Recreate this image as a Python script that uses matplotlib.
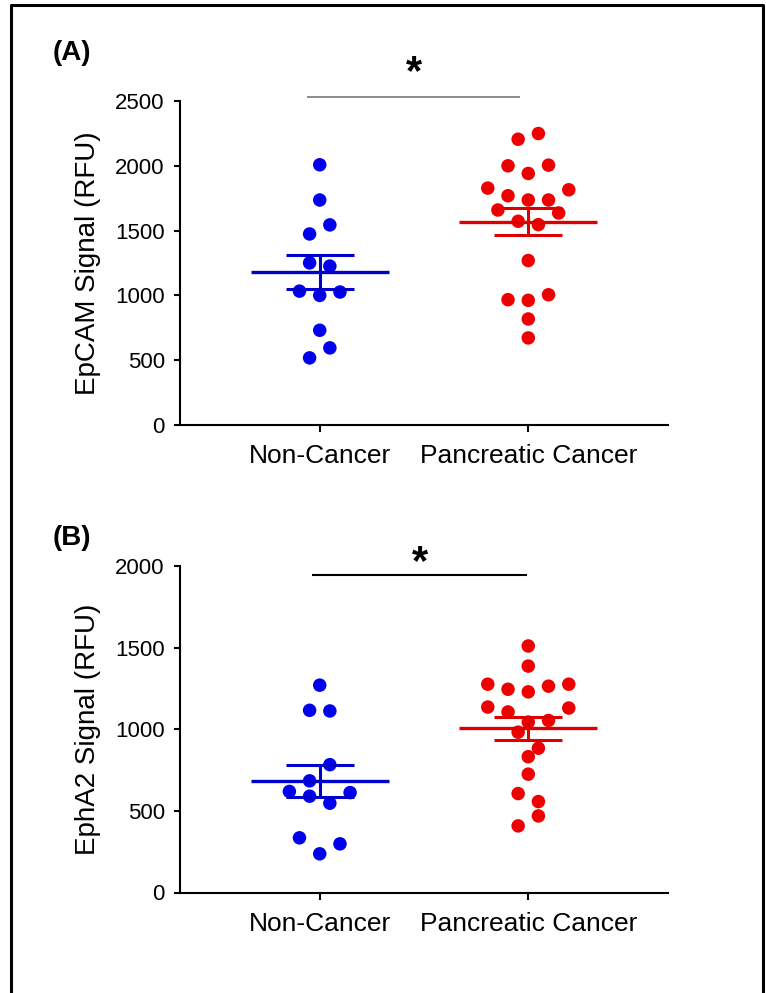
import numpy as np
import matplotlib
matplotlib.use('Agg')
import matplotlib.pyplot as plt
from matplotlib.lines import Line2D

plt.rcParams['font.family'] = ['Liberation Sans', 'DejaVu Sans']

# ---------------- data ----------------
categories = ['Non-Cancer', 'Pancreatic Cancer']

epcam_non_cancer = [2008, 1736, 1474, 1544, 1251, 1226, 1033, 1000, 1026, 731, 518, 595]
epcam_cancer = [2205, 2249, 2000, 1941, 2005, 1828, 1769, 1736, 1736, 1815,
                1659, 1572, 1546, 1636, 1269, 967, 962, 1005, 818, 672]

epha2_non_cancer = [1270, 1116, 1112, 684, 783, 619, 590, 547, 612, 335, 237, 298]
epha2_cancer = [1510, 1387, 1276, 1245, 1229, 1264, 1276, 1136, 1106, 1044,
                1054, 1130, 982, 884, 832, 725, 606, 557, 408, 469]

epcam_ticks = [0, 500, 1000, 1500, 2000, 2500]
epha2_ticks = [0, 500, 1000, 1500, 2000]

panel_labels = ['(A)', '(B)']
y_labels = ['EpCAM Signal (RFU)', 'EphA2 Signal (RFU)']
significance = ['*', '*']

# ---------------- style ----------------
W, H = 766, 993
DPI = 100
dot_colors = ['#0000ee', '#ee0000']
line_colors = ['#0000cc', '#dd0000']
MARKER_PX = 13.5

fig = plt.figure(figsize=(W / DPI, H / DPI), dpi=DPI)


def px_box(left, top, right, bottom):
    return [left / W, 1 - bottom / H, (right - left) / W, (bottom - top) / H]


def swarm_offsets(values, px_per_y, px_per_x, marker_px, row_px=17, step_factor=1.5):
    vals = np.asarray(values, float)
    order = sorted(range(len(vals)), key=lambda i: (-vals[i], i))
    offsets = np.zeros(len(vals))
    rows, cur = [], []
    for i in order:
        if cur and (vals[cur[0]] - vals[i]) * px_per_y > row_px:
            rows.append(cur)
            cur = []
        cur.append(i)
    if cur:
        rows.append(cur)
    step = marker_px * step_factor / px_per_x
    for r in rows:
        r = sorted(r)
        n = len(r)
        for k, i in enumerate(r):
            offsets[i] = (k - (n - 1) / 2) * step
    return offsets


def draw_panel(box, groups, ticks, ylabel, sig, sig_color, sig_lw, sig_line_y, sig_x, star_y):
    ax = fig.add_axes(px_box(*box))
    xlim = (-0.67, 1.67)
    ylim = (ticks[0], ticks[-1])
    ax.set_xlim(*xlim)
    ax.set_ylim(*ylim)
    w_px = (box[2] - box[0])
    h_px = (box[3] - box[1])
    px_per_x = w_px / (xlim[1] - xlim[0])
    px_per_y = h_px / (ylim[1] - ylim[0])

    for gi, vals in enumerate(groups):
        vals = np.asarray(vals, float)
        offs = swarm_offsets(vals, px_per_y, px_per_x, MARKER_PX)
        ax.scatter(gi + offs, vals, s=(MARKER_PX * 72 / DPI) ** 2, color=dot_colors[gi],
                   edgecolors='none', zorder=3, clip_on=False)
        m = vals.mean()
        sem = vals.std(ddof=1) / np.sqrt(len(vals))
        ax.hlines(m, gi - 0.33, gi + 0.33, color=line_colors[gi], lw=2.4, zorder=4)
        ax.hlines([m - sem, m + sem], gi - 0.163, gi + 0.163, color=line_colors[gi], lw=2.2, zorder=4)
        ax.vlines(gi, m - sem, m + sem, color=line_colors[gi], lw=2.2, zorder=4)

    for s in ['top', 'right']:
        ax.spines[s].set_visible(False)
    for s in ['left', 'bottom']:
        ax.spines[s].set_linewidth(1.5)
    ax.set_yticks(ticks)
    ax.set_yticklabels([str(t) for t in ticks])
    ax.set_xticks(range(len(categories)))
    ax.set_xticklabels(categories)
    ax.tick_params(axis='y', length=4, width=1.5, pad=7, labelsize=16)
    ax.tick_params(axis='x', length=5, width=1.5, pad=9, labelsize=19)
    ax.set_ylabel(ylabel, fontsize=20)
    ax.yaxis.label.set(ha='center', va='center')
    ax.yaxis.set_label_coords((88 - box[0]) / w_px, 0.5)

    ax.plot(sig_x, [sig_line_y, sig_line_y], color=sig_color, lw=sig_lw, clip_on=False,
            solid_capstyle='butt')
    ax.text(np.mean(sig_x), star_y, sig, ha='center', va='center', fontsize=30,
            fontweight='bold', clip_on=False)
    return ax


axA = draw_panel((180, 101, 668, 425), [epcam_non_cancer, epcam_cancer], epcam_ticks,
                 y_labels[0], significance[0], '#7a7a7a', 1.2, 2531, [-0.06, 0.96], 2715)
axB = draw_panel((180, 566, 668, 892.5), [epha2_non_cancer, epha2_cancer], epha2_ticks,
                 y_labels[1], significance[1], 'black', 1.5, 1945, [-0.035, 0.995], 2020)

fig.text(53 / W, 1 - 53 / H, panel_labels[0], ha='left', va='center', fontsize=20, fontweight='bold')
fig.text(53 / W, 1 - 538 / H, panel_labels[1], ha='left', va='center', fontsize=20, fontweight='bold')

# figure frame (left, top, right)
fig.add_artist(Line2D([10.5 / W, 10.5 / W, 763 / W, 763 / W], [0, 1 - 5 / H, 1 - 5 / H, 0],
                      transform=fig.transFigure, color='black', lw=2.2))

fig.savefig('out.png', dpi=DPI)
